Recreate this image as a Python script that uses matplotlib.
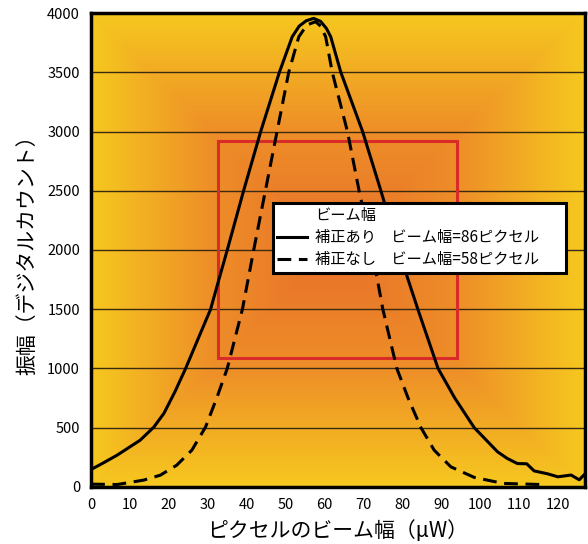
import matplotlib
matplotlib.use("Agg")
import matplotlib.pyplot as plt
import numpy as np
from matplotlib.lines import Line2D
from matplotlib.patches import Rectangle
from matplotlib.colors import LinearSegmentedColormap

plt.rcParams['font.family'] = ['Noto Sans CJK JP', 'DejaVu Sans']

# 補正あり (solid)
corr_x = [0, 3, 6.7, 12.6, 16.1, 18.7, 21.5, 24.3, 27.5, 30.7, 32.8, 35, 39.2, 43.6,
          48.4, 51.7, 53.5, 55.3, 57.2, 59, 60.5, 61.6, 64.2, 69.8, 74.5, 79, 84, 89.2,
          93.5, 98.5, 104.5, 107, 109.6, 112, 113.9, 117.4, 120, 123.4, 125.5, 126.7]
corr_y = [147, 200, 268, 394, 504, 620, 800, 1000, 1250, 1498, 1745, 2000, 2500, 3000,
          3500, 3800, 3890, 3935, 3955, 3930, 3870, 3800, 3500, 3000, 2500, 2000, 1500, 1000,
          750, 500, 296, 240, 197, 195, 135, 110, 85, 100, 60, 100]

# 補正なし (dashed)
raw_x = [0, 6.7, 13.5, 17.8, 22, 25.9, 29.4, 32.4, 35, 38.9, 41.8, 44.8, 47.8, 50.8,
         53.4, 55.5, 57.7, 59, 60.3, 62, 65.9, 68.9, 72.2, 75, 78.6, 81.5, 84.8, 88.2,
         92.5, 98.5, 106, 115.6]
raw_y = [23, 20, 57, 99, 183, 310, 504, 760, 1000, 1500, 2000, 2500, 3000, 3500,
         3800, 3900, 3927, 3890, 3800, 3500, 3000, 2500, 2000, 1500, 1000, 750, 500, 310,
         169, 80, 29, 20]

rect_x = [32.7, 94]
rect_y = [1091, 2917]

legend_title = 'ビーム幅'
labels = ['補正あり　ビーム幅=86ピクセル', '補正なし　ビーム幅=58ピクセル']

fig = plt.figure(figsize=(5.88, 5.44), dpi=100)
ax = fig.add_axes([0.155, 0.105, 0.84, 0.871])
xmax, ymax = 127, 4000
ax.set_xlim(0, xmax)
ax.set_ylim(0, ymax)

# rectangular gradient background
gx = np.linspace(0, xmax, 400)
gy = np.linspace(0, ymax, 400)
X, Y = np.meshgrid(gx, gy)
cx, cy = 62, 2000
d = np.maximum(np.abs(X - cx) / np.where(X < cx, cx, xmax - cx),
               np.abs(Y - cy) / cy)
cmap = LinearSegmentedColormap.from_list('bg', ['#E8702A', '#EE8E28', '#F6C81F'])
ax.imshow(d, extent=[0, xmax, 0, ymax], origin='lower', aspect='auto',
          cmap=cmap, vmin=0, vmax=1, zorder=0)

for v in range(500, 4000, 500):
    ax.axhline(v, color='#3a2a10', lw=1.0, zorder=1)

ax.add_patch(Rectangle((rect_x[0], rect_y[0]), rect_x[1] - rect_x[0], rect_y[1] - rect_y[0],
                       fill=False, edgecolor='#D92B27', lw=2.2, zorder=2))

l1, = ax.plot(corr_x, corr_y, color='black', lw=2.2, zorder=3, solid_joinstyle='round')
l2, = ax.plot(raw_x, raw_y, color='black', lw=2.2, ls=(0, (4.5, 2.5)), zorder=3)

h0 = Line2D([], [], linestyle='none')
leg = ax.legend(handles=[h0, l1, l2], labels=[legend_title] + labels,
                loc='upper left', bbox_to_anchor=(0.368, 0.462, 0.594, 0.138),
                mode='expand', borderaxespad=0,
                fontsize=11, handlelength=1.9, handletextpad=0.55,
                fancybox=False, framealpha=1, edgecolor='black',
                borderpad=0.3, labelspacing=0.32)
leg.get_frame().set_linewidth(2.2)
leg.set_zorder(5)

ax.set_xticks(range(0, 121, 10))
ax.set_yticks(range(0, 4001, 500))
ax.tick_params(length=0, labelsize=10.5, pad=8)
for s in ax.spines.values():
    s.set_linewidth(2.5)
    s.set_zorder(6)

ax.set_xlabel('ピクセルのビーム幅（μW）', fontsize=15, labelpad=6)
ax.set_ylabel('振幅（デジタルカウント）', fontsize=15, labelpad=6)

fig.savefig('out.png', dpi=100)
